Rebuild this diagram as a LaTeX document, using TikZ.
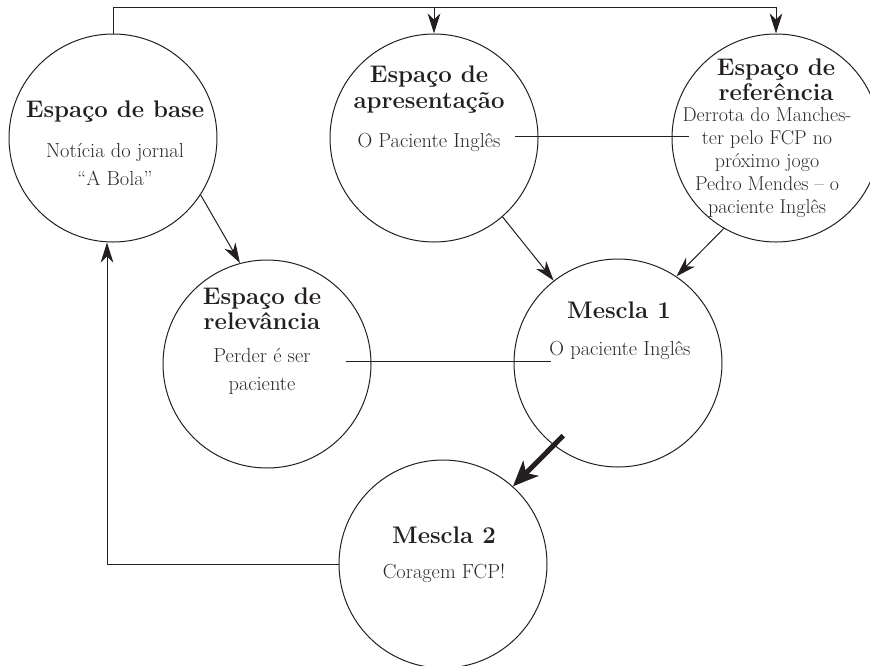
\documentclass[tikz,border=0pt]{standalone}
\usetikzlibrary{arrows.meta,calc}
\definecolor{ink}{RGB}{35,31,32}
\definecolor{bodyink}{RGB}{45,41,42}
\begin{document}
\begin{tikzpicture}
[x=0.75pt,y=-0.75pt,
  spacedecorate/.style={shape=circle,draw=ink,line width=0.75pt,minimum size=156pt,inner sep=0pt},%
  titledecorate/.style={align=center,inner sep=0pt,text=ink,font=\bfseries\fontsize{18}{19}\selectfont},%
  textdecorate/.style={align=center,inner sep=0pt,text=bodyink,font=\fontsize{15.3}{21}\selectfont},%
  linedecorate/.style={-,draw=ink,line width=0.75pt},%
  arrowdecorate/.style={-{Stealth[length=15pt,width=9.5pt,inset=4.5pt]},draw=ink,line width=0.75pt},%
  blenddecorate/.style={-{Stealth[length=19pt,width=16pt,inset=5pt]},draw=ink,line width=3.75pt}]
\useasboundingbox (0,0) rectangle (870,665);
%% mental spaces
\foreach \nodename/\x/\y in {
  base/113/138, apres/434/138, refer/776/138,
  relev/267/364, mesclaA/618/363, mesclaB/443/564} {
  \node (\nodename) at (\x,\y) [spacedecorate] {};
}
%% titles
\node (baseT) at (115,112) [titledecorate] {Espaço de base};
\node (apresT) at (429,89.5) [titledecorate] {Espaço de\\apresentação};
\node (referT) at (776,79.5) [titledecorate] {Espaço de\\referência};
\node (relevT) at (262,308.5) [titledecorate] {Espaço de\\relevância};
\node (mesclaAT) at (619,310) [titledecorate] {Mescla 1};
\node (mesclaBT) at (444,535) [titledecorate] {Mescla 2};
%% contents
\node (baseB) at (115,164) [textdecorate] {Notícia do jornal\\“A Bola”};
\node (apresB) at (429,142) [textdecorate] {O Paciente Inglês};
\node (referB) at (767,162.5) [textdecorate,font=\fontsize{15}{17.25}\selectfont]
  {Derrota do Manches-\\ter pelo FCP no\\próximo jogo\\Pedro Mendes – o\\paciente Inglês};
\node (relevB) at (262,371) [textdecorate] {Perder é ser\\paciente};
\node (mesclaAB) at (620,350) [textdecorate] {O paciente Inglês};
\node (mesclaBB) at (444,573) [textdecorate] {Coragem FCP!};
%% links
\coordinate (topline) at (0,7);
\coordinate (referLink) at (689,0);
\coordinate (apresLink) at ([xshift=11pt,yshift=4.5pt]apresB.east);
\coordinate (relevLink) at ([xshift=26pt,yshift=7.5pt]relevB.east);
\draw[linedecorate] (apresLink) -- (apresLink -| referLink);
\draw[linedecorate] (relevLink) -- ([xshift=1.5pt]relevLink -| mesclaAB.west);
\draw[arrowdecorate] (base.north) |- (topline -| refer.north) -- (refer.north);
\draw[arrowdecorate] (topline -| apres.north) -- (apres.north);
\draw[arrowdecorate] (mesclaB.west) -| ([xshift=-4.5pt]base.south);
%% projections
\path
\foreach \startnode/\startangle/\endnode/\endangle in {
  base/-33.5/relev/105.7, apres/-49.6/mesclaA/128.5, refer/-120.4/mesclaA/56.3} {
  (\startnode.\startangle) edge[arrowdecorate] (\endnode.\endangle)
};
\draw[blenddecorate] ($(mesclaA.center)!0.87!(mesclaA.-127.4)$) -- (mesclaB.48.8);
\end{tikzpicture}
\end{document}
